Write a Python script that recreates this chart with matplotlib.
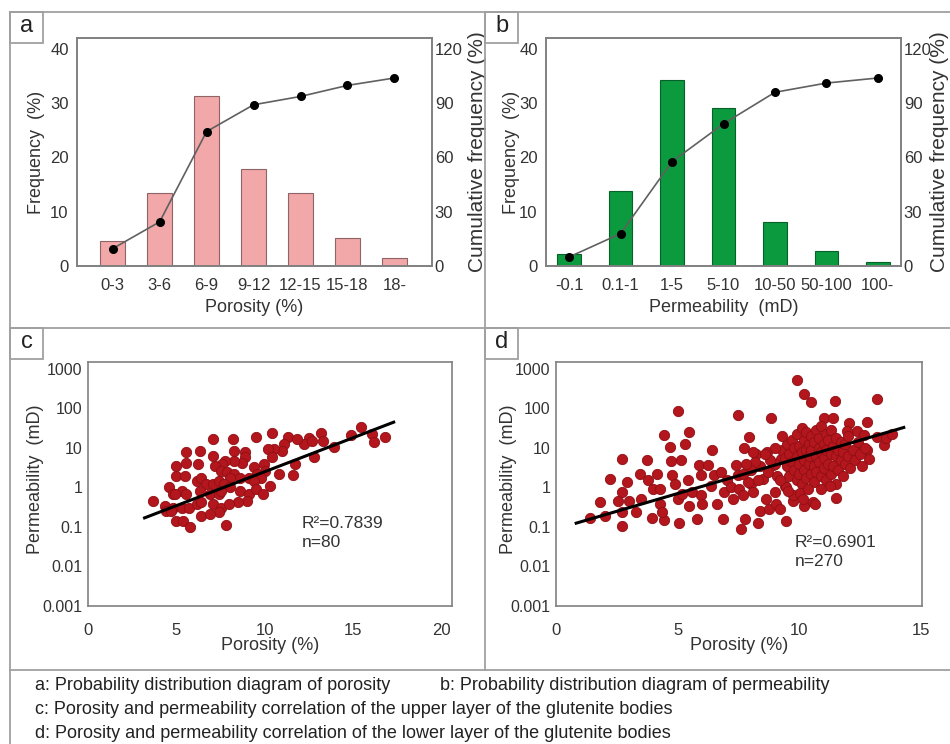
import matplotlib
matplotlib.use("Agg")
import matplotlib.pyplot as plt
import numpy as np
from matplotlib.lines import Line2D
from matplotlib.patches import Rectangle

# ---- data ----
por_bins = ["0-3", "3-6", "6-9", "9-12", "12-15", "15-18", "18-"]
por_freq = [4.6, 13.5, 31.4, 17.8, 13.4, 5.2, 1.5]
por_cum = [9.6, 24.4, 74.3, 89.1, 93.7, 99.8, 103.9]

perm_bins = ["-0.1", "0.1-1", "1-5", "5-10", "10-50", "50-100", "100-"]
perm_freq = [2.3, 13.8, 34.3, 29.1, 8.1, 2.8, 0.7]
perm_cum = [5.0, 17.9, 57.7, 78.6, 96.0, 101.1, 103.9]

# c: upper layer (porosity %, log10 permeability mD)
c_por = [15.46, 14.9, 16.07, 16.2, 16.8, 13.2, 12.5, 12.2, 12.7, 13.3, 13.9, 12.8,
         10.4, 11.3, 11.8, 11.1, 11.0, 10.5, 10.2, 10.4, 11.7, 11.6, 10.8, 10.3,
         9.49, 8.2, 7.06,
         8.24, 8.9, 8.9, 8.7, 8.24, 7.77, 7.06, 7.6, 7.2, 7.5, 7.86, 8.24, 8.6, 8.05,
         9.4, 9.96, 10.0, 9.58, 9.1, 9.8, 9.4, 8.6, 9.1, 9.5, 9.9, 9.0, 8.5,
         6.34, 6.24, 5.57, 5.53, 5.0, 5.0, 5.5, 6.15, 6.4, 6.7, 7.1, 7.4, 7.67, 8.05,
         4.6, 5.3, 4.8, 5.57, 6.34, 6.9, 7.4, 7.5, 7.1, 7.5, 7.4, 7.96,
         3.66, 4.33, 4.8, 5.3, 5.7, 4.43, 4.7, 5.0, 5.4, 5.8, 6.4, 6.15, 6.4, 6.9, 7.8, 4.9]
c_logk = [1.52, 1.34, 1.35, 1.14, 1.27, 1.37, 1.25, 1.10, 1.18, 1.18, 1.03, 0.76,
          1.37, 1.27, 1.23, 1.10, 0.93, 0.97, 0.97, 0.76, 0.59, 0.32, 0.34, 0.04,
          1.28, 1.23, 1.23,
          0.93, 0.89, 0.76, 0.63, 0.68, 0.68, 0.80, 0.59, 0.55, 0.42, 0.38, 0.34, 0.25, 0.25,
          0.51, 0.59, 0.42, 0.34, 0.25, 0.25, 0.17, -0.08, -0.17, -0.04, -0.17, -0.34, -0.38,
          0.93, 0.59, 0.89, 0.63, 0.55, 0.30, 0.30, 0.17, 0.25, 0.08, 0.08, 0.17, 0.08, 0.0,
          0.0, -0.08, -0.17, -0.17, -0.08, -0.17, -0.17, -0.08, -0.42, -0.51, -0.63, -0.41,
          -0.34, -0.46, -0.51, -0.51, -0.51, -0.59, -0.59, -0.85, -0.85, -1.01, -0.72, -0.42,
          -0.38, -0.68, -0.95, -0.17]
c_fit_por = [3.2, 17.3]
c_fit_perm = [0.17, 45]

# d: lower layer
d_por = [1.38, 1.8, 2.0, 2.2, 2.56, 2.7, 2.7, 2.7, 2.72, 2.9,
         3.0, 3.3, 3.46, 3.5, 3.73, 3.8, 3.94, 4.0, 4.15, 4.29,
         4.29, 4.43, 4.43, 4.36, 4.67, 4.74, 4.77, 4.88, 5.02, 5.05,
         5.02, 5.12, 5.2, 5.3, 5.44, 5.46, 5.46, 5.6, 5.8, 5.9,
         5.95, 5.95, 6.0, 6.27, 6.36, 6.43, 6.5, 6.64, 6.78, 6.85,
         6.9, 7.05, 7.19, 7.26, 7.4, 7.47, 7.47, 7.54, 7.6, 7.68,
         7.75, 7.79, 7.88, 7.95, 8.02, 8.1, 8.23, 8.3, 8.37, 8.5,
         8.64, 8.67, 8.75, 8.85, 8.92, 9.0, 9.06, 9.2, 9.27, 9.4,
         9.47, 9.68, 9.75, 9.92, 10.1, 10.19, 10.2, 10.5, 10.58, 10.65,
         11.0, 11.38, 11.48, 11.52, 12.03, 12.38, 12.77, 12.8, 12.86, 13.2,
         13.2, 13.49, 13.55, 13.83, 12.66, 11.96, 12.38,
         # dense cluster
         9.3, 9.4, 9.5, 9.5, 9.6, 9.6, 9.7, 9.7, 9.8, 9.8,
         9.9, 9.9, 9.9, 10.0, 10.0, 10.0, 10.1, 10.1, 10.1, 10.2,
         10.2, 10.2, 10.3, 10.3, 10.3, 10.4, 10.4, 10.4, 10.5, 10.5,
         10.5, 10.6, 10.6, 10.6, 10.7, 10.7, 10.7, 10.8, 10.8, 10.8,
         10.9, 10.9, 10.9, 11.0, 11.0, 11.0, 11.1, 11.1, 11.1, 11.2,
         11.2, 11.3, 11.3, 11.3, 11.4, 11.4, 11.5, 11.5, 11.5, 11.6,
         11.6, 11.7, 11.7, 11.8, 11.8, 11.9, 11.9, 12.0, 12.0, 12.1,
         12.2, 12.3, 12.4, 12.5, 12.6, 12.7, 9.0, 9.1, 9.0, 8.8,
         8.7, 8.6, 8.4, 8.3, 8.2, 8.0, 8.1, 7.9, 7.8, 7.7,
         9.45, 9.75, 10.05, 10.35, 10.15, 9.55, 10.9, 11.25, 9.2, 9.3]
d_logk = [-0.78, -0.38, -0.72, 0.22, -0.33, -0.12, -0.61, -0.97, 0.72, 0.14,
          -0.33, -0.63, 0.35, -0.29, 0.69, 0.18, -0.76, -0.03, 0.35, -0.03,
          -0.42, 1.33, -0.82, -0.63, 1.03, 0.67, 0.31, 0.09, 1.93, -0.9,
          -0.29, 0.69, -0.16, 1.09, 0.18, 1.40, -0.46, -0.12, -0.8, 0.56,
          0.31, -0.2, -0.42, 0.56, 0.05, 0.95, 0.31, -0.42, 0.39, -0.8,
          -0.12, 0.18, 0.01, -0.29, 0.56, 1.84, 0.31, -0.03, -1.06, -0.2,
          0.99, -0.8, 0.44, 1.29, 0.09, -0.12, 0.86, -0.89, -0.59, 0.22,
          -0.29, 0.9, -0.55, 1.77, 0.56, -0.12, -0.42, -0.55, 0.73, 0.05,
          -0.84, 0.39, -0.33, 2.71, 0.56, 2.37, -0.46, 2.17, -0.38, -0.42,
          1.76, 1.76, 2.18, -0.27, 1.63, 1.42, 1.67, 0.95, 0.73, 2.23,
          1.29, 1.08, 1.25, 1.35, 1.33, 1.42, 0.9,
          # dense cluster
          0.95, 0.75, 1.1, 0.55, 0.3, 0.85, 1.2, 0.65, 0.45, 1.0,
          0.2, 0.8, 1.35, 0.6, 1.05, 0.35, 0.9, 1.5, 0.1, 0.7,
          1.2, 0.45, 0.95, 1.4, 0.25, 0.6, 1.1, 0.8, 0.35, 1.3,
          0.95, 0.55, 1.15, 0.15, 0.8, 1.45, 0.4, 1.0, 0.65, 1.25,
          0.3, 0.9, 1.55, 0.5, 1.1, 0.75, 1.35, 0.2, 0.95, 0.6,
          1.2, 0.85, 0.35, 1.45, 1.05, 0.55, 0.8, 1.25, 0.1, 0.95,
          0.45, 1.15, 0.7, 0.9, 0.3, 1.1, 0.6, 0.8, 1.3, 0.5,
          0.95, 0.7, 1.15, 0.85, 0.55, 1.0, 0.6, 0.3, 1.0, 0.7,
          0.4, 0.85, 0.55, 0.2, 0.65, 0.45, 0.9, 0.15, 0.6, 0.35,
          0.0, -0.2, -0.15, -0.05, -0.3, -0.1, -0.05, 0.05, 0.2, 1.3]
d_fit_por = [0.83, 14.3]
d_fit_perm = [0.125, 33]

W, H = 950, 744
FONT = ["Liberation Sans", "DejaVu Sans"]
plt.rcParams['font.family'] = FONT
GRAY = "#808080"
TXT = "#333333"


def box(l, t, r, b):
    return [l / W, 1 - b / H, (r - l) / W, (b - t) / H]


def style(ax):
    for s in ax.spines.values():
        s.set_color(GRAY)
        s.set_linewidth(1.2)
    ax.tick_params(length=0, labelsize=12, colors=TXT, pad=6)


fig = plt.figure(figsize=(W / 100, H / 100), dpi=100)
fig.set_facecolor("white")

# frame lines
def hline(y, x0, x1):
    fig.add_artist(Line2D([x0 / W, x1 / W], [1 - y / H, 1 - y / H], color="#a0a0a0", lw=1.3))

def vline(x, y0, y1):
    fig.add_artist(Line2D([x / W, x / W], [1 - y0 / H, 1 - y1 / H], color="#a0a0a0", lw=1.3))

hline(12, 10, 950)
hline(328, 10, 950)
hline(670, 10, 950)
vline(10, 12, 744)
vline(485, 12, 670)

for lab, (l, t) in zip("abcd", [(10, 12), (485, 12), (10, 328), (485, 328)]):
    fig.add_artist(Rectangle((l / W, 1 - (t + 31) / H), 33 / W, 31 / H,
                             transform=fig.transFigure, fill=False,
                             edgecolor="#a0a0a0", lw=1.3))
    fig.text((l + 16.5) / W, 1 - (t + 14) / H, lab, fontsize=17, color="#222222",
             ha="center", va="center")


def hist_panel(rect, bins, freq, cum, xlabel, fc, ec, xlim, width, ylab_x, cum_x):
    ax = fig.add_axes(rect)
    x = np.arange(len(bins))
    ax.bar(x, freq, width=width, color=fc, edgecolor=ec, linewidth=0.8, zorder=2)
    ax.set_xlim(*xlim)
    ax.set_ylim(0, 42)
    ax.set_yticks([0, 10, 20, 30, 40])
    ax.set_xticks(x)
    ax.set_xticklabels(bins)
    ax.set_xlabel(xlabel, fontsize=13, color=TXT)
    ax.xaxis.set_label_coords(0.5, -0.145)
    ax.set_ylabel("Frequency  (%)", fontsize=13, color=TXT)
    ax.yaxis.set_label_coords(ylab_x, 0.5)
    style(ax)
    ax.tick_params(axis="x", pad=9)
    ax2 = ax.twinx()
    ax2.plot(x, cum, color="#606060", lw=1.2, marker="o", markersize=5.5,
             markerfacecolor="black", markeredgecolor="black", zorder=3)
    ax2.set_ylim(0, 126)
    ax2.set_yticks([0, 30, 60, 90, 120])
    ax2.set_ylabel("Cumulative frequency (%)", fontsize=15, color=TXT, rotation=90)
    ax2.yaxis.set_label_coords(cum_x, 0.5)
    style(ax2)
    ax2.tick_params(pad=2)
    return ax


hist_panel(box(77, 38, 432, 266), por_bins, por_freq, por_cum, "Porosity (%)",
           "#F2A7A8", "#8E6466", (-0.76, 6.8), 0.52, -0.09, 1.10)
hist_panel(box(546, 38, 901, 266), perm_bins, perm_freq, perm_cum, "Permeability  (mD)",
           "#0B9A3E", "#07622A", (-0.45, 6.45), 0.46, -0.073, 1.083)


def scatter_panel(rect, por, logk, fit_x, fit_y, xmax, xticks, r2, n, tx, ty, ylab_x):
    ax = fig.add_axes(rect)
    ax.scatter(por, 10 ** np.array(logk), s=55, color="#B3161C",
               edgecolor="#8E1014", linewidth=0.6, zorder=2)
    ax.plot(fit_x, fit_y, color="black", lw=2.2, zorder=3)
    ax.set_yscale("log")
    ax.set_ylim(0.001, 1500)
    ax.set_xlim(0, xmax)
    ax.set_yticks([0.001, 0.01, 0.1, 1, 10, 100, 1000])
    ax.set_yticklabels(["0.001", "0.01", "0.1", "1", "10", "100", "1000"])
    ax.minorticks_off()
    ax.set_xticks(xticks)
    ax.set_xlabel("Porosity (%)", fontsize=13, color=TXT)
    ax.xaxis.set_label_coords(0.5, -0.125)
    ax.set_ylabel("Permeability  (mD)", fontsize=13, color=TXT)
    ax.yaxis.set_label_coords(ylab_x, 0.52)
    style(ax)
    ax.tick_params(axis="y", labelsize=11.5, pad=4)
    ax.tick_params(axis="x", labelsize=12, pad=12)
    ax.text(tx, ty, r2, transform=ax.transAxes, fontsize=12.5, color=TXT, va="center")
    ax.text(tx, ty - 0.08, n, transform=ax.transAxes, fontsize=12.5, color=TXT, va="center")
    return ax


scatter_panel(box(88, 362, 452, 606), c_por, c_logk, c_fit_por, c_fit_perm,
              20.6, [0, 5, 10, 15, 20], "R\u00b2=0.7839", "n=80", 0.588, 0.34, -0.12)
scatter_panel(box(556, 362, 922, 606), d_por, d_logk, d_fit_por, d_fit_perm,
              15.05, [0, 5, 10, 15], "R\u00b2=0.6901", "n=270", 0.653, 0.262, -0.107)

# caption
cap_kw = dict(fontsize=13, color="#222222", va="center")
fig.text(35 / W, 1 - 686 / H, "a: Probability distribution diagram of porosity", **cap_kw)
fig.text(440 / W, 1 - 686 / H, "b: Probability distribution diagram of permeability", **cap_kw)
fig.text(35 / W, 1 - 710 / H,
         "c: Porosity and permeability correlation of the upper layer of the glutenite bodies", **cap_kw)
fig.text(35 / W, 1 - 734 / H,
         "d: Porosity and permeability correlation of the lower layer of the glutenite bodies", **cap_kw)

fig.savefig("out.png", dpi=100, facecolor="white")
